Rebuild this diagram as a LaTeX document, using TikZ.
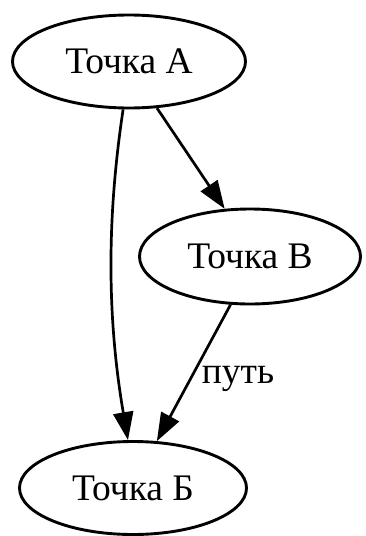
\documentclass[tikz,border=0pt]{standalone}
\usepackage{fontspec}
\setmainfont{Liberation Serif}
\usetikzlibrary{shapes.geometric,arrows.meta}
\tikzset{
  pt/.style={ellipse, draw, line width=2.9pt, inner sep=0pt, font=\fontsize{37.5}{42}\selectfont},
  edge/.style={line width=2.7pt, -{Triangle[length=28pt,width=20pt]}},
  lbl/.style={font=\fontsize{37.5}{42}\selectfont, inner sep=0pt}
}
\begin{document}
\begin{tikzpicture}[x=1pt,y=-1pt]
\useasboundingbox (0,0) rectangle (365,536);
\node[pt, minimum width=233pt, minimum height=93pt] (A) at (129,61.5) {Точка А};
\node[pt, minimum width=221pt, minimum height=95pt] (B) at (250,256.5) {Точка В};
\node[pt, minimum width=227pt, minimum height=93pt] (C) at (133,488) {Точка Б};
\draw[edge] (A.-97) .. controls (110,197) and (104,300) .. (C.96);
\draw[edge] (A.-59) -- (B.118);
\draw[edge] (B.-112) -- (C.63);
\node[lbl, anchor=base] (L) at (238,383) {путь};
\end{tikzpicture}
\end{document}
